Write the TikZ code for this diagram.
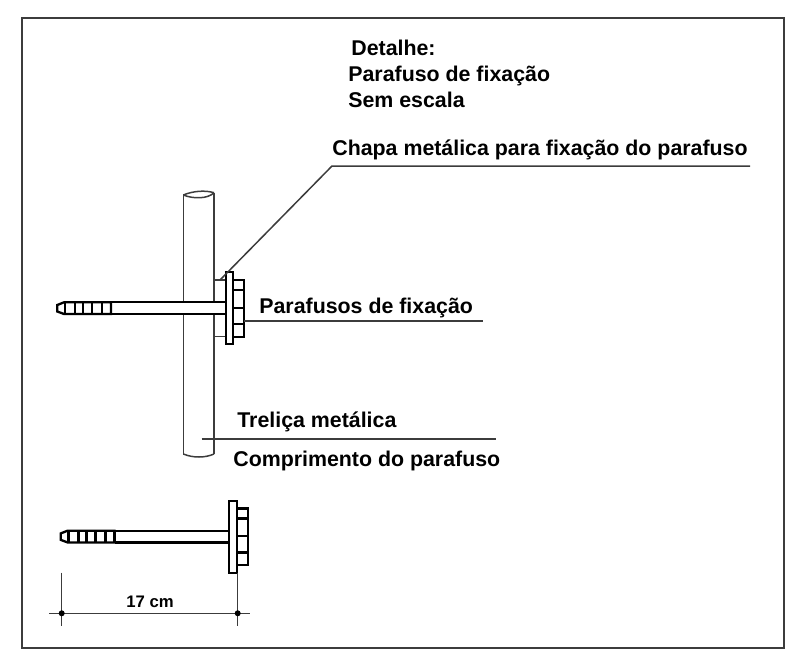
\documentclass[tikz,border=0pt]{standalone}
\usepackage{fontspec}
\setmainfont{Liberation Sans}
\definecolor{frameCol}{RGB}{60, 60, 60}
\tikzset{myThinLine/.style={line width=0.3mm,color=frameCol}}
\tikzset{myBoltLine/.style={line width=0.46mm,color=black}}
\tikzset{myLabel/.style={font=\bfseries\fontsize{12.15}{14}\selectfont,anchor=base west,inner sep=0pt,text=black}}
\newcommand{\drawBolt}[2]{%
	\begin{scope}[shift={(#1,#2)}]
		\draw[myBoltLine, fill=white](57.3,305)--(64,302.3)--(111,302.3)--(111,314)--(64,314)--(57.3,311.5)--cycle;
		\foreach \tx in {65,75,83,92,102,111}{
			\draw[myBoltLine](\tx,302.3)--(\tx,314);
		}
		\draw[myBoltLine](111,302.3)--(225.7,302.3);
		\draw[myBoltLine](111,314)--(225.7,314);
		\draw[myBoltLine](225.7,272.3) rectangle (233.3,344.3);
		\draw[myBoltLine](233.3,280) rectangle (244.3,336.7);
		\foreach \ty in {290,307.7,324}{
			\draw[myBoltLine](233.3,\ty)--(244.3,\ty);
		}
	\end{scope}
}

\begin{document}
\begin{tikzpicture}[x=0.2mm,y=-0.2mm]
	\useasboundingbox(0,0) rectangle (795,649);
	\draw[myThinLine, line width=0.4mm](21.5,18) rectangle (783.5,647.5);

	%truss
	\draw[myThinLine](183.3,195)--(183.3,302.3);
	\draw[myThinLine](214,192.7)--(214,302.3);
	\draw[myThinLine](183.3,314)--(183.3,454);
	\draw[myThinLine](214,314)--(214,454);
	\draw[myThinLine](183.3,195) .. controls (193,191) and (205,190) .. (214,192.7);
	\draw[myThinLine](183.3,195) .. controls (193,199) and (208,199) .. (214,192.7);
	\draw[myThinLine](183.3,454) .. controls (193,458) and (205,458) .. (214,454);

	%plate behind the bolt
	\draw[myThinLine](214,280)--(225.7,280);
	\draw[myThinLine](214,336.7)--(225.7,336.7);

	\drawBolt{0}{0}
	\drawBolt{3.5}{228.4}

	%labels
	\node[myLabel] (title) at (351,55.5) {Detalhe:};
	\node[myLabel] (bolt) at (348,81.5) {Parafuso de fixação};
	\node[myLabel] (scale) at (348,107.5) {Sem escala};
	\node[myLabel] (sheet) at (332,155) {Chapa metálica para fixação do parafuso};
	\node[myLabel] (fixing) at (259,313) {Parafusos de fixação};
	\node[myLabel] (truss) at (237,427) {Treliça metálica};
	\node[myLabel] (length) at (233,466) {Comprimento do parafuso};

	%leaders
	\coordinate (sheetA) at (220,280);
	\coordinate (sheetB) at (332,166);
	\coordinate (sheetC) at (750,166);
	\draw[myThinLine](sheetA)--(sheetB)--(sheetC);
	\coordinate (fixingA) at (244.3,321);
	\coordinate (fixingB) at (483,321);
	\draw[myThinLine](fixingA)--(fixingB);
	\coordinate (trussA) at (201.7,439);
	\coordinate (trussB) at (496,439);
	\draw[myThinLine](trussA)--(trussB);

	%dimension
	\coordinate (dimA) at (61.7,613.3);
	\coordinate (dimB) at (237.7,613.3);
	\draw[myThinLine](49.3,613.3)--(250,613.3);
	\draw[myThinLine](61.7,572.7)--(61.7,626);
	\draw[myThinLine](237.7,572.7)--(237.7,626);
	\fill[black](dimA) circle [radius=3];
	\fill[black](dimB) circle [radius=3];
	\node[myLabel, font=\bfseries\fontsize{9.5}{11}\selectfont] (dimLabel) at (126,607) {17 cm};
\end{tikzpicture}
\end{document}
